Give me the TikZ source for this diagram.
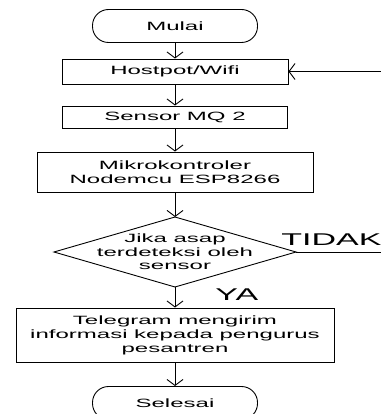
\documentclass[tikz,border=0pt]{standalone}
\usepackage{fontspec}
\setmainfont{Liberation Sans}[FakeStretch=2]
\usetikzlibrary{arrows.meta}
\begin{document}
\begin{tikzpicture}[x=1pt,y=-1pt,
  line width=0.9pt,
  txt/.style={font=\fontsize{12}{14}\selectfont, align=center, inner sep=0pt},
  box/.style={txt, draw, rectangle},
  term/.style={txt, draw, rectangle, rounded corners=16pt},
  arr/.style={-{Straight Barb[length=6pt,width=16pt]}},
  lbl/.style={inner sep=0pt, font=\fontsize{17}{20}\selectfont, anchor=base west}]
\useasboundingbox (0,0) rectangle (380,414);

\node[term, minimum width=165pt, minimum height=33pt] (start) at (175,26) {Mulai};
\node[box, minimum width=226pt, minimum height=25pt] (host) at (175,71.5) {Hostpot/Wifi};
\node[box, minimum width=225pt, minimum height=22pt] (sens) at (175,117) {Sensor MQ 2};
\node[box, minimum width=276pt, minimum height=40pt] (mcu) at (175,172) {Mikrokontroler\\Nodemcu ESP8266};

\coordinate (dT) at (175,217);
\coordinate (dR) at (296,252);
\coordinate (dB) at (175,287);
\coordinate (dL) at (54,252);
\draw (dT) -- (dR) -- (dB) -- (dL) -- cycle;
\node[txt, font=\fontsize{12}{13.5}\selectfont] (dec) at (175,252) {Jika asap\\terdeteksi oleh\\sensor};

\node[box, minimum width=318pt, minimum height=54pt] (tele) at (175,335) {Telegram mengirim\\informasi kepada pengurus\\pesantren};
\node[term, minimum width=165pt, minimum height=33pt] (end) at (175,403) {Selesai};

\draw[arr] (start) -- (host);
\draw[arr] (host) -- (sens);
\draw[arr] (sens) -- (mcu);
\draw[arr] (mcu) -- (dT);
\draw[arr] (dB) -- (tele);
\draw[arr] (tele) -- (end);

\coordinate (eR) at (384,252);
\coordinate (hR) at (384,71.5);
\draw[arr] (dR) -- (eR) -- (hR) -- (host.east);

\node[lbl] (tidak) at (281,245) {TIDAK};
\node[lbl] (ya) at (215,300) {YA};
\end{tikzpicture}
\end{document}
